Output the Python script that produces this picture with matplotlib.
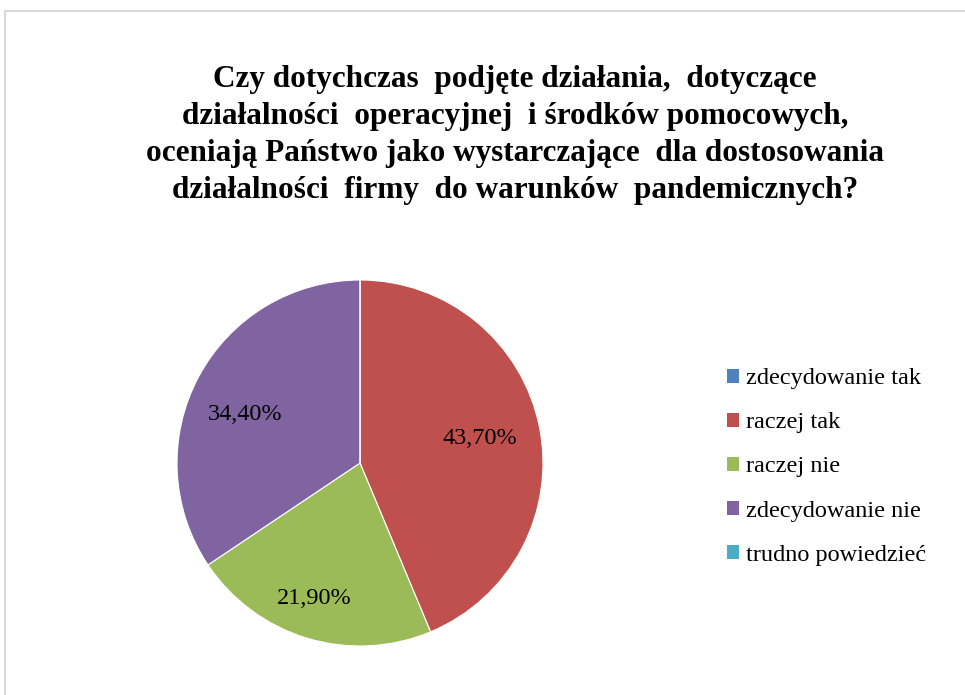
import matplotlib.pyplot as plt
from matplotlib.patches import Rectangle, Patch
import numpy as np

# dane
categories = ['zdecydowanie tak', 'raczej tak', 'raczej nie',
              'zdecydowanie nie', 'trudno powiedzieć']
values = [0.0, 43.7, 21.9, 34.4, 0.0]
colors = ['#4F81BD', '#C0504D', '#9BBB59', '#8064A2', '#4BACC6']

# polozenie etykiet (odleglosc od srodka, przesuniecie kata)
label_dist = [0.0, 0.67, 0.78, 0.68, 0.0]
label_shift = [0, 0, -2, 5, 0]

title = ('Czy dotychczas  podjęte działania,  dotyczące\n'
         'działalności  operacyjnej  i środków pomocowych,\n'
         'oceniają Państwo jako wystarczające  dla dostosowania\n'
         'działalności  firmy  do warunków  pandemicznych?')

W, H = 965, 695
fig = plt.figure(figsize=(W / 100, H / 100), dpi=100)
fig.patch.set_facecolor('white')
serif = ['Liberation Serif', 'DejaVu Serif']

# ramka obszaru wykresu
fig.patches.append(Rectangle((4.5 / W, -0.05), 1.1, 1 - 11 / H + 0.05,
                             transform=fig.transFigure, fill=False,
                             edgecolor='#d9d9d9', linewidth=1.5))

fig.text(515 / W, 1 - 135 / H, title, ha='center', va='center',
         fontsize=22.5, fontweight='bold', family=serif, linespacing=1.36)

cx, cy, r = 360, 463, 183
ax = fig.add_axes([(cx - r) / W, (H - cy - r) / H, 2 * r / W, 2 * r / H])
wedges, _ = ax.pie(values, colors=colors, startangle=90, counterclock=False,
                   wedgeprops=dict(edgecolor='white', linewidth=0.8))
ax.set_xlim(-1, 1)
ax.set_ylim(-1, 1)
ax.set_aspect('equal')
ax.axis('off')

for w, v, d, s in zip(wedges, values, label_dist, label_shift):
    if v <= 0:
        continue
    ang = np.deg2rad((w.theta1 + w.theta2) / 2 + s)
    ax.text(d * np.cos(ang), d * np.sin(ang), f'{v:.2f}%'.replace('.', ','),
            ha='center', va='center', fontsize=17.5, family=serif)

handles = [Patch(facecolor=c, edgecolor='none') for c in colors]
fig.legend(handles, categories, loc='center left',
           bbox_to_anchor=(705 / W, 1 - 467 / H), frameon=False,
           prop=dict(family=serif, size=17.5), handlelength=0.5,
           handleheight=0.5, handletextpad=0.3, labelspacing=0.95)

fig.savefig('out.png', dpi=100)
